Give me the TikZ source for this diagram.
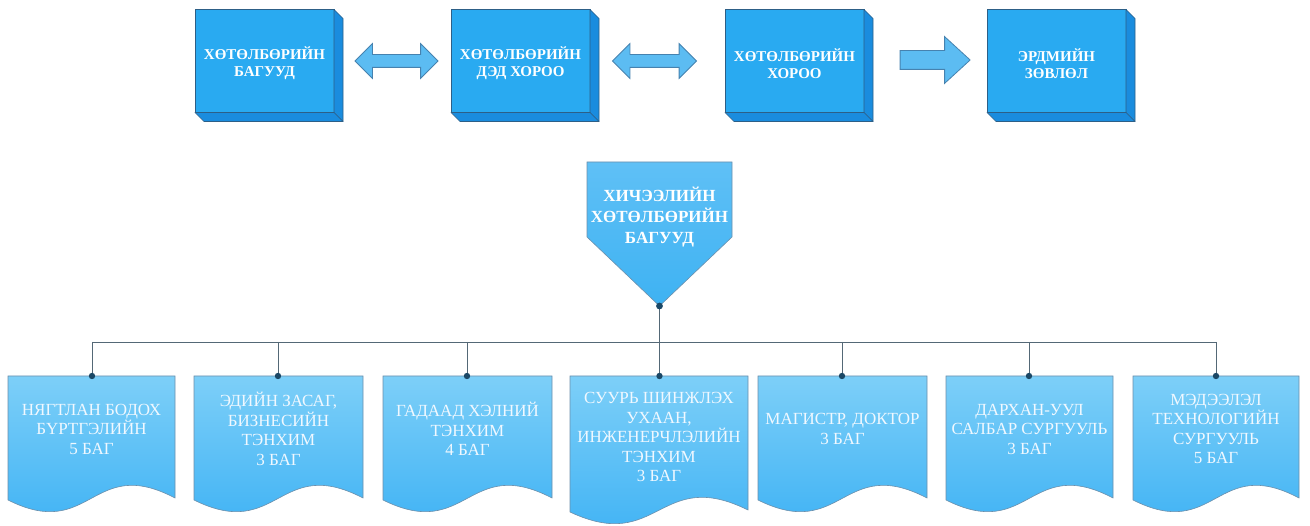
\documentclass[tikz,border=0pt]{standalone}
\usepackage{fontspec}
\setmainfont{Liberation Serif}
\usetikzlibrary{shapes.arrows}

\definecolor{face}{RGB}{41,170,241}
\definecolor{side}{RGB}{26,140,222}
\definecolor{edge}{RGB}{45,95,135}
\definecolor{arrowfill}{RGB}{92,188,242}
\definecolor{arrowedge}{RGB}{70,130,175}
\definecolor{doctop}{RGB}{125,207,248}
\definecolor{docbot}{RGB}{58,176,244}
\definecolor{penttop}{RGB}{95,192,246}
\definecolor{pentbot}{RGB}{62,178,242}
\definecolor{wire}{RGB}{84,104,118}
\definecolor{dotc}{RGB}{28,72,102}
\definecolor{softwhite}{RGB}{240,248,255}

\tikzset{
  cube/.style={draw=edge, fill=face, line width=0.6pt, outer sep=0pt, inner sep=0pt,
    minimum width=139pt, minimum height=103pt},
  cubeside/.style={draw=edge, fill=side, line width=0.6pt, line join=round},
  cubelabel/.style={align=center, text=white, font=\bfseries\fontsize{15}{17}\selectfont},
  blockarrow/.style={draw=arrowedge, fill=arrowfill, line width=0.8pt, outer sep=0pt},
  docshape/.style={draw=edge!70, line width=0.6pt, top color=doctop, bottom color=docbot},
  doctext/.style={align=center, text=softwhite, font=\fontsize{17}{19.5}\selectfont},
  pentshape/.style={draw=edge!70, line width=0.6pt, top color=penttop, bottom color=pentbot},
  penttext/.style={align=center, text=white, font=\bfseries\fontsize{17}{21}\selectfont},
  wire/.style={draw=wire, line width=0.9pt},
  joint/.style={fill=dotc}
}

\begin{document}
\begin{tikzpicture}[x=1pt,y=-1pt]
\useasboundingbox (0,0) rectangle (1310,526);

% ---- top row: bevelled blocks ----
\node[cube] (b1) at (264.5,61) {};
\node[cube] (b2) at (520.5,61) {};
\node[cube] (b3) at (794.5,61) {};
\node[cube] (b4) at (1056.5,61) {};
\foreach \b in {b1,b2,b3,b4}{
  \path[cubeside] (\b.north east) -- ++(9,9) -- ++(0,103) -- (\b.south east) -- cycle;
  \path[cubeside] (\b.south west) -- (\b.south east) -- ++(9,9) -- ++(-139,0) -- cycle;
}
\node[cubelabel] (l1) at ([yshift=-2.5pt]b1.center) {ХӨТӨЛБӨРИЙН\\БАГУУД};
\node[cubelabel] (l2) at ([yshift=-2.5pt]b2.center) {ХӨТӨЛБӨРИЙН\\ДЭД ХОРОО};
\node[cubelabel] (l3) at ([yshift=-2.5pt]b3.center) {ХӨТӨЛБӨРИЙН\\ХОРОО};
\node[cubelabel] (l4) at ([yshift=-2.5pt]b4.center) {ЭРДМИЙН\\ЗӨВЛӨЛ};

% ---- block arrows between the blocks ----
\node[blockarrow, double arrow, minimum height=83pt, minimum width=34pt,
      inner sep=6pt, double arrow head extend=11pt] (a1) at (396.5,61) {};
\node[blockarrow, double arrow, minimum height=84pt, minimum width=34pt,
      inner sep=6pt, double arrow head extend=11pt] (a2) at (654.5,61) {};
\node[blockarrow, single arrow, minimum height=70pt, minimum width=46pt,
      inner sep=9pt, single arrow head extend=14pt, single arrow tip angle=85] (a3) at (930,60) {};

% ---- pentagon heading ----
\path[pentshape] (587,162) -- (732,162) -- (732,237) -- (659.5,306) -- (587,237) -- cycle;
\node[penttext] (p) at (659.5,217) {ХИЧЭЭЛИЙН\\ХӨТӨЛБӨРИЙН\\БАГУУД};
\coordinate (ptip) at (659.5,306);

% ---- document shapes ----
\foreach \xa/\xb/\yb in {8/175/500, 194/363/500, 383/552/500, 570/748/512,
                         758/927/500, 946/1113/500, 1133/1299/500}{
  \path[docshape] (\xa,376) -- (\xb,376) -- (\xb,\yb-2)
    .. controls ({(\xa+\xb)/2},\yb-46) and ({(\xa+\xb)/2},\yb+42) .. (\xa,\yb) -- cycle;
}

\node[doctext] (d1) at (91.5,429) {НЯГТЛАН БОДОХ\\БҮРТГЭЛИЙН\\5 БАГ};
\node[doctext] (d2) at (278.5,429) {ЭДИЙН ЗАСАГ,\\БИЗНЕСИЙН\\ТЭНХИМ\\3 БАГ};
\node[doctext] (d3) at (467.5,429) {ГАДААД ХЭЛНИЙ\\ТЭНХИМ\\4 БАГ};
\node[doctext] (d4) at (659,437) {СУУРЬ ШИНЖЛЭХ\\УХААН,\\ИНЖЕНЕРЧЛЭЛИЙН\\ТЭНХИМ\\3 БАГ};
\node[doctext] (d5) at (842.5,429) {МАГИСТР, ДОКТОР\\3 БАГ};
\node[doctext] (d6) at (1029.5,429) {ДАРХАН-УУЛ\\САЛБАР СУРГУУЛЬ\\3 БАГ};
\node[doctext] (d7) at (1216,429) {МЭДЭЭЛЭЛ\\ТЕХНОЛОГИЙН\\СУРГУУЛЬ\\5 БАГ};

% ---- connector tree ----
\coordinate (bus) at (659.5,342);
\coordinate (t1) at (92,376);
\coordinate (t2) at (278,376);
\coordinate (t3) at (467,376);
\coordinate (t4) at (659.5,376);
\coordinate (t5) at (842,376);
\coordinate (t6) at (1029,376);
\coordinate (t7) at (1216,376);

\draw[wire] (ptip) -- (bus);
\draw[wire] (t1 |- bus) -- (t7 |- bus);
\foreach \t in {t1,t2,t3,t4,t5,t6,t7}{
  \draw[wire] (\t |- bus) -- (\t);
  \fill[joint] (\t) circle (3.2pt);
}
\fill[joint] (ptip) circle (3.4pt);
\end{tikzpicture}
\end{document}
